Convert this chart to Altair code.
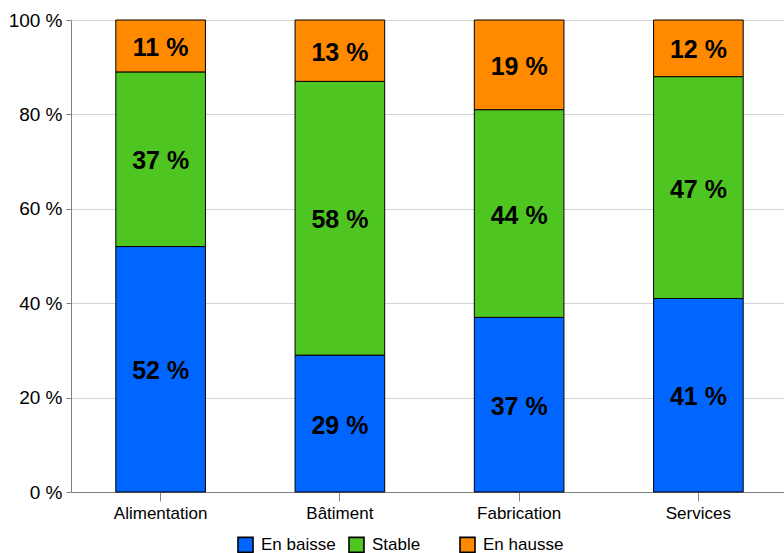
import altair as alt
import pandas as pd

# Share of answers per sector (percent)
sectors = ["Alimentation", "Bâtiment", "Fabrication", "Services"]
series = ["En baisse", "Stable", "En hausse"]
en_baisse = [52, 29, 37, 41]
stable = [37, 58, 44, 47]
en_hausse = [11, 13, 19, 12]
colors = ["#0066FF", "#4EC520", "#FF8A00"]
y_ticks = [0, 20, 40, 60, 80, 100]

rows = []
for i, s in enumerate(sectors):
    for k, (name, vals) in enumerate(zip(series, [en_baisse, stable, en_hausse])):
        rows.append({"secteur": s, "tendance": name, "ord": k, "valeur": vals[i]})
df = pd.DataFrame(rows)

FONT = "Liberation Sans"

# band range runs a little past the right edge of the drawing area
x_scale = alt.Scale(paddingInner=0.5, paddingOuter=0.25, range=[0, 717])

x_enc = alt.X(
    "secteur:N",
    sort=sectors,
    title=None,
    scale=x_scale,
    axis=alt.Axis(
        labelAngle=0,
        labelFontSize=17,
        labelFont=FONT,
        labelColor="#000000",
        labelPadding=4,
        tickSize=9,
        tickColor="#808080",
        domainColor="#808080",
        grid=False,
    ),
)

base = alt.Chart(df)

bars = base.mark_bar(stroke="#000000", strokeWidth=1).encode(
    x=x_enc,
    y=alt.Y(
        "valeur:Q",
        stack="zero",
        title=None,
        scale=alt.Scale(domain=[0, 100], nice=False),
        axis=alt.Axis(
            values=y_ticks,
            labelExpr="datum.value + ' %'",
            labelFontSize=19,
            labelFont=FONT,
            labelColor="#000000",
            labelPadding=4,
            tickSize=5,
            tickColor="#808080",
            domainColor="#808080",
            gridColor="#d3d3d3",
        ),
    ),
    color=alt.Color(
        "tendance:N",
        sort=series,
        scale=alt.Scale(domain=series, range=colors),
        legend=alt.Legend(
            title=None,
            orient="none",
            direction="horizontal",
            legendX=166,
            legendY=516,
            symbolType="square",
            symbolSize=225,
            symbolStrokeColor="#000000",
            symbolStrokeWidth=1.6,
            symbolOpacity=1,
            labelFontSize=17,
            labelFont=FONT,
            labelColor="#000000",
            labelOffset=7,
            columnPadding=3,
            gridAlign="all",
            padding=0,
        ),
    ),
    order=alt.Order("ord:Q", sort="ascending"),
)

labels = (
    base.transform_stack(
        stack="valeur",
        as_=["y0", "y1"],
        groupby=["secteur"],
        sort=[alt.SortField("ord", order="ascending")],
    )
    .transform_calculate(mid="(datum.y0 + datum.y1) / 2", txt="datum.valeur + ' %'")
    .mark_text(font=FONT, fontSize=25, fontWeight="bold", color="#000000", baseline="middle", dy=2)
    .encode(
        x=alt.X("secteur:N", sort=sectors, scale=x_scale),
        y=alt.Y("mid:Q"),
        text="txt:N",
    )
)

chart = (
    alt.layer(bars, labels)
    .properties(
        width=713,
        height=472,
        autosize=alt.AutoSizeParams(type="none"),
        padding={"left": 71, "top": 20, "right": 0, "bottom": 61},
    )
    .configure_view(stroke=None)
    .configure(font=FONT)
)

chart.save("out.html", embed_options={"renderer": "svg", "actions": False})
